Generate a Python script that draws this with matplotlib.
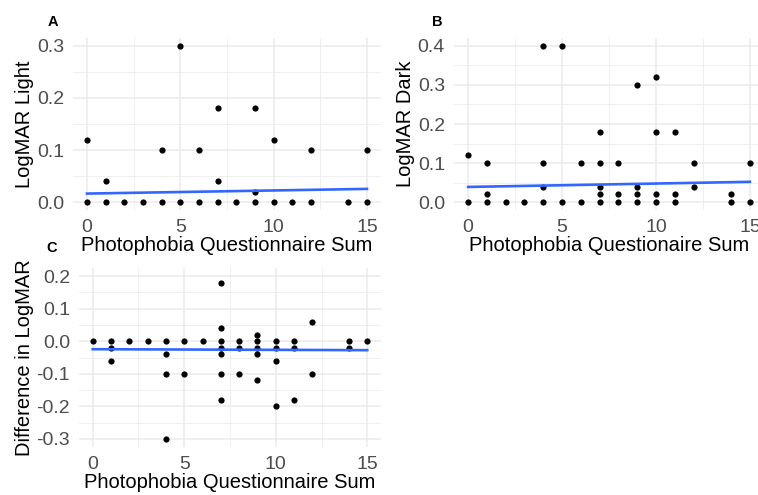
import numpy as np
import matplotlib
matplotlib.use("Agg")
import matplotlib.pyplot as plt
from matplotlib.ticker import MultipleLocator

plt.rcParams['font.family'] = ['Liberation Sans', 'DejaVu Sans']

# Panel A: LogMAR Light
a_x = [0, 0, 1, 1, 2, 3, 4, 4, 5, 5, 6, 6, 7, 7, 7, 8, 9, 9, 9, 10, 10, 11, 12, 12, 14, 15, 15]
a_y = [0.12, 0, 0.04, 0, 0, 0, 0.1, 0, 0.3, 0, 0.1, 0, 0.18, 0.04, 0, 0, 0.18, 0.02, 0, 0.12, 0,
       0, 0.1, 0, 0, 0.1, 0]

# Panel B: LogMAR Dark
b_x = [0, 0, 1, 1, 1, 2, 3, 4, 4, 4, 4, 5, 5, 6, 6, 7, 7, 7, 7, 7, 8, 8, 8, 9, 9, 9, 9,
       10, 10, 10, 10, 11, 11, 11, 12, 12, 14, 14, 15, 15]
b_y = [0.12, 0, 0.1, 0.02, 0, 0, 0, 0.4, 0.1, 0.04, 0, 0.4, 0, 0.1, 0, 0.18, 0.1, 0.04, 0.02, 0,
       0.1, 0.02, 0, 0.3, 0.04, 0.02, 0, 0.32, 0.18, 0.02, 0, 0.18, 0.02, 0, 0.1, 0.04, 0.02, 0,
       0.1, 0]

# Panel C: Difference in LogMAR
c_x = [0, 1, 1, 1, 2, 3, 4, 4, 4, 4, 5, 5, 6, 7, 7, 7, 7, 7, 7, 7, 8, 8, 8, 9, 9, 9, 9, 9,
       10, 10, 10, 10, 11, 11, 11, 12, 12, 14, 14, 15]
c_y = [0, 0, -0.02, -0.06, 0, 0, 0, -0.04, -0.1, -0.3, 0, -0.1, 0, 0.18, 0.04, 0, -0.02, -0.04,
       -0.1, -0.18, 0, -0.02, -0.1, 0.02, 0, -0.02, -0.04, -0.12, 0, -0.02, -0.06, -0.2, 0, -0.02,
       -0.18, 0.06, -0.1, 0, -0.02, 0]

# Linear fit lines (intercept, slope)
fit_a = (0.0165, 0.0006)
fit_b = (0.039, 0.00087)
fit_c = (-0.0245, -0.0002)

y_ticks_a = [0.0, 0.1, 0.2, 0.3]
y_ticks_b = [0.0, 0.1, 0.2, 0.3, 0.4]
y_ticks_c = [-0.3, -0.2, -0.1, 0.0, 0.1, 0.2]
x_ticks = [0, 5, 10, 15]

W, H = 758, 495
fig = plt.figure(figsize=(W / 100, H / 100), dpi=100)


def make_ax(l, r, t, b):
    return fig.add_axes([l / W, 1 - b / H, (r - l) / W, (b - t) / H])


def style(ax, xs, ys, fit, yticks, ylabel, label, lab_xy):
    ax.set_facecolor('white')
    for s in ax.spines.values():
        s.set_visible(False)
    ax.set_axisbelow(True)
    ax.xaxis.set_minor_locator(MultipleLocator(2.5))
    ax.yaxis.set_minor_locator(MultipleLocator(0.05))
    ax.grid(True, which='major', color='#EBEBEB', linewidth=1.1)
    ax.grid(True, which='minor', color='#EBEBEB', linewidth=0.55)
    ax.tick_params(which='both', length=0, labelsize=14, labelcolor='#4D4D4D')
    ax.tick_params(axis='x', pad=6.5)
    ax.tick_params(axis='y', pad=6.5)
    ax.scatter(xs, ys, s=20, color='black', zorder=3, linewidths=0)
    xl = np.array([min(xs), max(xs)])
    ax.plot(xl, fit[0] + fit[1] * xl, color='#3366FF', linewidth=1.9, zorder=4)
    ax.set_xticks(x_ticks)
    ax.set_yticks(yticks)
    ax.set_yticklabels([f"{v:.1f}" for v in yticks])
    rng = max(yticks) - min(yticks)
    ax.set_ylim(min(yticks) - 0.05 * rng, max(yticks) + 0.05 * rng)
    ax.set_xlim(-0.75, 15.75)
    ax.set_xlabel('Photophobia Questionnaire Sum' if label != 'B' else 'Photophobia Questionaire Sum',
                  fontsize=14.5, labelpad=0)
    ax.set_ylabel(ylabel, fontsize=14.5, labelpad=2)
    fig.text(lab_xy[0] / W, 1 - lab_xy[1] / H, label, fontsize=10.5, fontweight='bold',
             ha='center', va='center')


axA = make_ax(73, 381, 38, 210)
style(axA, a_x, a_y, fit_a, y_ticks_a, 'LogMAR Light', 'A', (53, 22))

axB = make_ax(454, 764, 38, 210)
style(axB, b_x, b_y, fit_b, y_ticks_b, 'LogMAR Dark', 'B', (437, 22))

axC = make_ax(79, 381, 268, 447)
style(axC, c_x, c_y, fit_c, y_ticks_c, 'Difference in LogMAR', 'C', (52, 248))

fig.savefig('out.png', dpi=100)
